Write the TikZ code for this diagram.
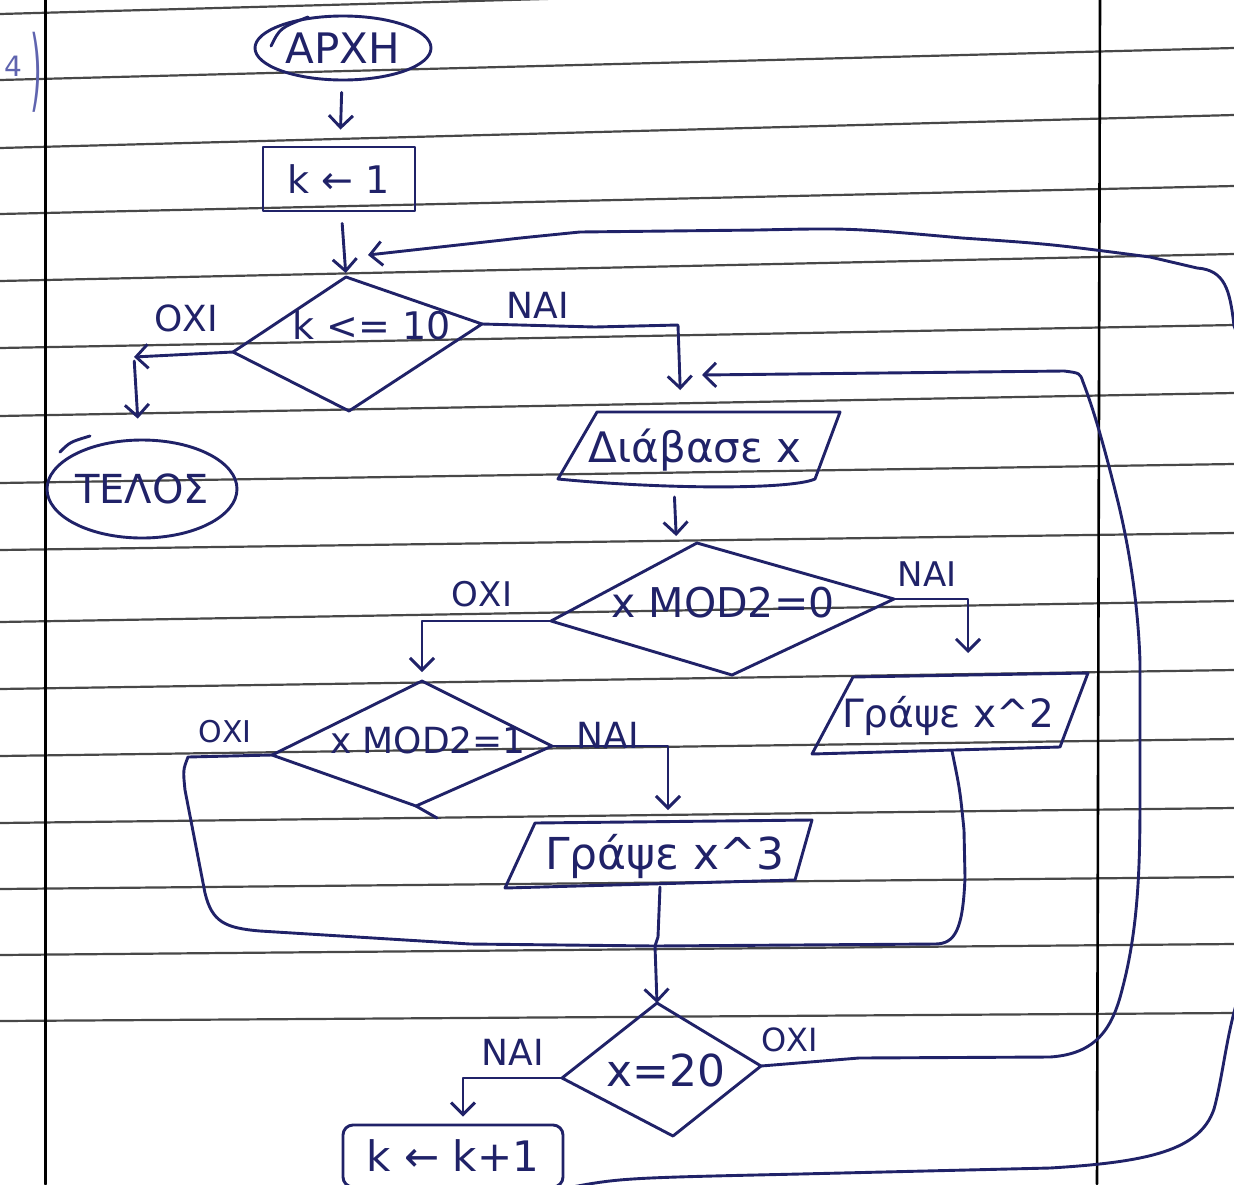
\documentclass[tikz,border=0pt]{standalone}
\usepackage{fontspec}
\setmainfont{DejaVu Sans}
\usetikzlibrary{arrows.meta,shapes.geometric,calc}
\definecolor{ink}{RGB}{32,34,104}
\definecolor{inklight}{RGB}{95,100,175}
\definecolor{rulecol}{RGB}{72,72,72}
\newcommand\myfs[1]{\fontsize{#1}{#1}\selectfont}
\begin{document}
\begin{tikzpicture}[x=1pt,y=-1pt,line join=round,line cap=round,
  pen/.style={draw=ink,line width=2.9pt},
  arr/.style={pen,-{Straight Barb[length=12pt,width=24pt]}},
  lbl/.style={text=ink,inner sep=0pt},
  shapebox/.style={pen,text=ink,inner sep=0pt}]
\useasboundingbox (0,0) rectangle (1234,1184);
\fill[white] (0,0) rectangle (1234,1184);
\begin{scope}
\clip (0,0) rectangle (1234,1184);
% ruled paper
\foreach \l/\r in {14/-20,80/48,148/115,214/186,281/254,348/325,416/393,483/464,550/533,622/601,689/670,756/739,823/808,889/877,955/944,1021/1013}
  \draw[rulecol,line width=2.2pt] (0,\l) -- (1234,\r);
\draw[black,line width=3pt] (45,0) -- (45,1184);
\draw[black,line width=2.6pt] (1100,0) -- (1097,1184);

% margin number
\node[text=inklight,inner sep=0pt,font=\myfs{28}] (num) at (13,66) {4};
\node[text=inklight,inner sep=0pt,font=\myfs{30}] (par) at (36,72) {\scalebox{1}[3]{)}};

% start / init
\node[shapebox,ellipse,minimum width=176pt,minimum height=64pt,font=\myfs{42}] (start) at (343,48) {ΑΡΧΗ};
\draw[pen] (271,46) .. controls (280,28) .. (308,17);
\node[shapebox,rectangle,minimum width=152pt,minimum height=64pt,font=\myfs{38}] (init) at (339,179) {k ← 1};

% decision 1
\coordinate (d1t) at (346,277);
\coordinate (d1r) at (482,324);
\coordinate (d1b) at (349,411);
\coordinate (d1l) at (233,352);
\draw[pen] (d1t) -- (d1r) -- (d1b) -- (d1l) -- cycle;
\node[lbl,font=\myfs{38}] (t1) at (372,325) {k <= 10};
\node[lbl,font=\myfs{36}] (no1) at (186,318) {ΟΧΙ};
\node[lbl,font=\myfs{36}] (yes1) at (538,305) {ΝΑΙ};
\coordinate (d1in) at (368,255);

% end
\node[shapebox,ellipse,minimum width=190pt,minimum height=98pt,font=\myfs{40}] (stop) at (142,489) {ΤΕΛΟΣ};
\draw[pen] (60,452) .. controls (70,442) .. (90,436);

% read
\coordinate (r1) at (597,412);
\coordinate (r2) at (840,412);
\coordinate (r3) at (815,479);
\coordinate (r4) at (558,479);
\draw[pen] (r1) -- (r2) -- (r3) .. controls (790,490) and (660,489) .. (r4) -- cycle;
\node[lbl,font=\myfs{42}] (read) at (695,450) {Διάβασε x};
\coordinate (rdin) at (681,412);
\coordinate (rdout) at (674,487);
\coordinate (rdloop) at (702,375);

% decision 2
\coordinate (d2t) at (697,543);
\coordinate (d2r) at (894,599);
\coordinate (d2b) at (732,675);
\coordinate (d2l) at (551,621);
\draw[pen] (d2t) -- (d2r) -- (d2b) -- (d2l) -- cycle;
\node[lbl,font=\myfs{41}] (t2) at (723,603) {x MOD2=0};
\node[lbl,font=\myfs{34}] (no2) at (482,594) {ΟΧΙ};
\node[lbl,font=\myfs{34}] (yes2) at (927,574) {ΝΑΙ};
\coordinate (d2in) at (677,554);

% decision 3
\coordinate (d3t) at (422,681);
\coordinate (d3r) at (552,746);
\coordinate (d3b) at (416,806);
\coordinate (d3l) at (272,755);
\draw[pen] (d3t) -- (d3r) -- (d3b) -- (d3l) -- cycle;
\draw[pen] (d3b) -- (437,818);
\node[lbl,font=\myfs{36}] (t3) at (428,740) {x MOD2=1};
\node[lbl,font=\myfs{30}] (no3) at (225,732) {ΟΧΙ};
\node[lbl,font=\myfs{36}] (yes3) at (608,735) {ΝΑΙ};

% write x^2
\coordinate (w2a) at (853,677);
\coordinate (w2b) at (1088,673);
\coordinate (w2c) at (1060,747);
\coordinate (w2d) at (812,754);
\draw[pen] (w2a) -- (w2b) -- (w2c) -- (w2d) -- cycle;
\node[lbl,font=\myfs{39}] (w2) at (948,716) {Γράψε x\textasciicircum 2};
\coordinate (w2t) at (968,675);
\coordinate (w2o) at (952,751);

% write x^3
\coordinate (w3a) at (535,823);
\coordinate (w3b) at (812,820);
\coordinate (w3c) at (795,880);
\coordinate (w3d) at (505,888);
\draw[pen] (w3a) -- (w3b) -- (w3c) -- (w3d) -- cycle;
\node[lbl,font=\myfs{44}] (w3) at (665,856) {Γράψε x\textasciicircum 3};
\coordinate (w3t) at (668,822);
\coordinate (w3o) at (660,887);

\coordinate (mrg) at (655,946);

% decision 4
\coordinate (d4t) at (657,1003);
\coordinate (d4r) at (761,1066);
\coordinate (d4b) at (673,1136);
\coordinate (d4l) at (562,1078);
\draw[pen] (d4t) -- (d4r) -- (d4b) -- (d4l) -- cycle;
\node[lbl,font=\myfs{44}] (t4) at (666,1070) {x=20};
\node[lbl,font=\myfs{36}] (yes4) at (513,1052) {ΝΑΙ};
\node[lbl,font=\myfs{32}] (no4) at (790,1040) {ΟΧΙ};

% increment
\node[shapebox,rectangle,rounded corners=10pt,minimum width=220pt,minimum height=62pt,font=\myfs{42}] (kinc) at (453,1156) {k ← k+1};

% connectors
\draw[arr,shorten <=11pt,shorten >=16pt] (start) -- (init);
\draw[arr,shorten <=11pt,shorten >=4pt] (init) -- (d1t);
\coordinate (nobend) at (134,357);
\draw[arr] (d1l) -- (nobend);
\draw[arr,shorten <=4pt,shorten >=20pt] (nobend) -- (stop);
\draw[arr,shorten >=22pt] (d1r) -- (595,327) -- (678,325) -- (rdin);
\draw[arr,shorten <=10pt,shorten >=18pt] (rdout) -- (d2in);
\draw[arr] (d2l) -| ([yshift=9pt]d3t);
\draw[arr] (d2r) -| ([yshift=22pt]w2t);
\draw[arr] (d3r) -| ([yshift=12pt]w3t);
\draw[pen] (w3o) -- (658,937) -- (mrg);
\draw[pen] (w2o) .. controls (960,790) .. (964,830) -- (965,877) .. controls (963,930) and (955,944) .. (935,944) -- (mrg);
\draw[pen] (d3l) -- (188,757) .. controls (183,770) .. (185,790) -- (205,893) .. controls (212,922) and (225,928) .. (260,931) -- (470,944) -- (mrg);
\draw[arr] (mrg) -- (d4t);
\draw[arr] (d4l) -| ([xshift=10pt,yshift=7pt]kinc.north);
\draw[arr] (d4r) -- (859,1058) -- (1050,1057) .. controls (1095,1054) and (1112,1030) .. (1122,990) .. controls (1138,930) and (1140,870) .. (1140,800) -- (1140,662) .. controls (1138,600) and (1128,540) .. (1115,490) .. controls (1100,430) and (1090,400) .. (1083,382) .. controls (1080,373) .. (1064,371) -- (rdloop);
\draw[arr] (kinc.south east) .. controls (620,1178) .. (800,1174) -- (1050,1168) .. controls (1150,1162) and (1200,1150) .. (1214,1109) .. controls (1222,1080) and (1226,1040) .. (1236,1005) -- (1248,980) -- (1248,360) -- (1234,326) .. controls (1230,290) and (1225,270) .. (1197,268) -- (1150,257) .. controls (1050,244) .. (962,238) .. controls (850,228) .. (758,230) -- (580,232) .. controls (520,238) .. (503,240) -- (d1in);
\end{scope}
\end{tikzpicture}
\end{document}
